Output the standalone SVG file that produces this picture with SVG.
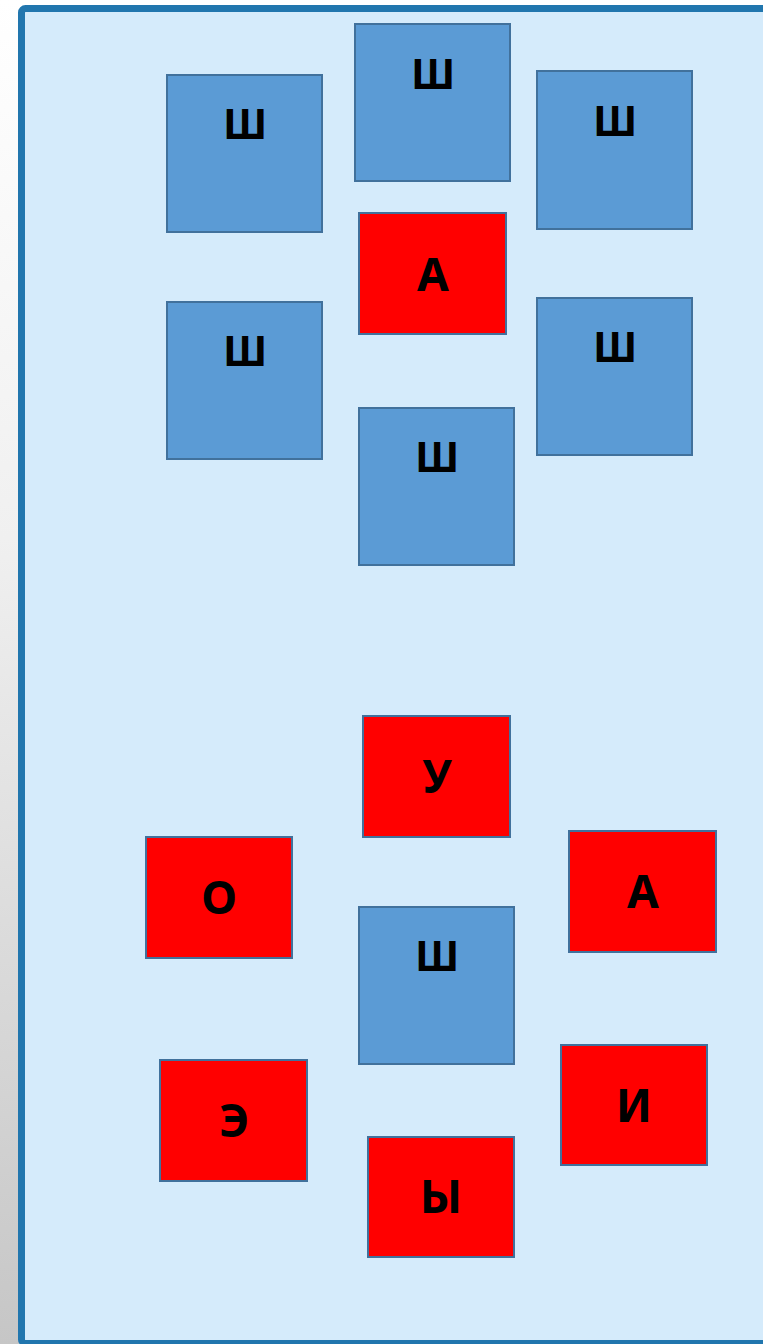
<svg xmlns="http://www.w3.org/2000/svg" width="763" height="1344" viewBox="0 0 763 1344">
<style>
.b{fill:#5b9bd5;stroke:#41719c;stroke-width:2}
.r{fill:#ff0000;stroke:#41719c;stroke-width:2}
text{font-family:"Noto Sans","DejaVu Sans",sans-serif;font-weight:bold;fill:#000;text-anchor:middle}
.tb{font-size:41px}
.tr{font-size:46px}
</style>
<defs>
<linearGradient id="sh" x1="0" y1="0" x2="0" y2="1">
<stop offset="0" stop-color="#ffffff"/>
<stop offset="0.4" stop-color="#f0f0f0"/>
<stop offset="1" stop-color="#c6c6c6"/>
</linearGradient>
</defs>
<rect x="0" y="0" width="763" height="1344" fill="#ffffff"/>
<rect x="0" y="0" width="19" height="1344" fill="url(#sh)"/>
<rect id="panel" x="21.5" y="8.5" width="760" height="1335" rx="4" fill="#d5ebfb" stroke="#2176ae" stroke-width="7"/>
<g id="n1"><rect class="b" x="167" y="75" width="155" height="157"/><text class="tb" x="245" y="139">Ш</text></g>
<g id="n2"><rect class="b" x="355" y="24" width="155" height="157"/><text class="tb" x="433" y="89">Ш</text></g>
<g id="n3"><rect class="b" x="537" y="71" width="155" height="158"/><text class="tb" x="615" y="136">Ш</text></g>
<g id="n4"><rect class="r" x="359" y="213" width="147" height="121"/><text class="tr" x="433" y="291">А</text></g>
<g id="n5"><rect class="b" x="167" y="302" width="155" height="157"/><text class="tb" x="245" y="366">Ш</text></g>
<g id="n6"><rect class="b" x="537" y="298" width="155" height="157"/><text class="tb" x="615" y="362">Ш</text></g>
<g id="n7"><rect class="b" x="359" y="408" width="155" height="157"/><text class="tb" x="437" y="472">Ш</text></g>
<g id="n8"><rect class="r" x="363" y="716" width="147" height="121"/><text class="tr" x="437" y="793">У</text></g>
<g id="n9"><rect class="r" x="146" y="837" width="146" height="121"/><text class="tr" x="219" y="914">О</text></g>
<g id="n10"><rect class="r" x="569" y="831" width="147" height="121"/><text class="tr" x="643" y="908">А</text></g>
<g id="n11"><rect class="b" x="359" y="907" width="155" height="157"/><text class="tb" x="437" y="971">Ш</text></g>
<g id="n12"><rect class="r" x="160" y="1060" width="147" height="121"/><text class="tr" x="234" y="1137">Э</text></g>
<g id="n13"><rect class="r" x="561" y="1045" width="146" height="120"/><text class="tr" x="634" y="1122">И</text></g>
<g id="n14"><rect class="r" x="368" y="1137" width="146" height="120"/><text class="tr" x="441" y="1213">Ы</text></g>
<g id="connectors"></g>
</svg>
